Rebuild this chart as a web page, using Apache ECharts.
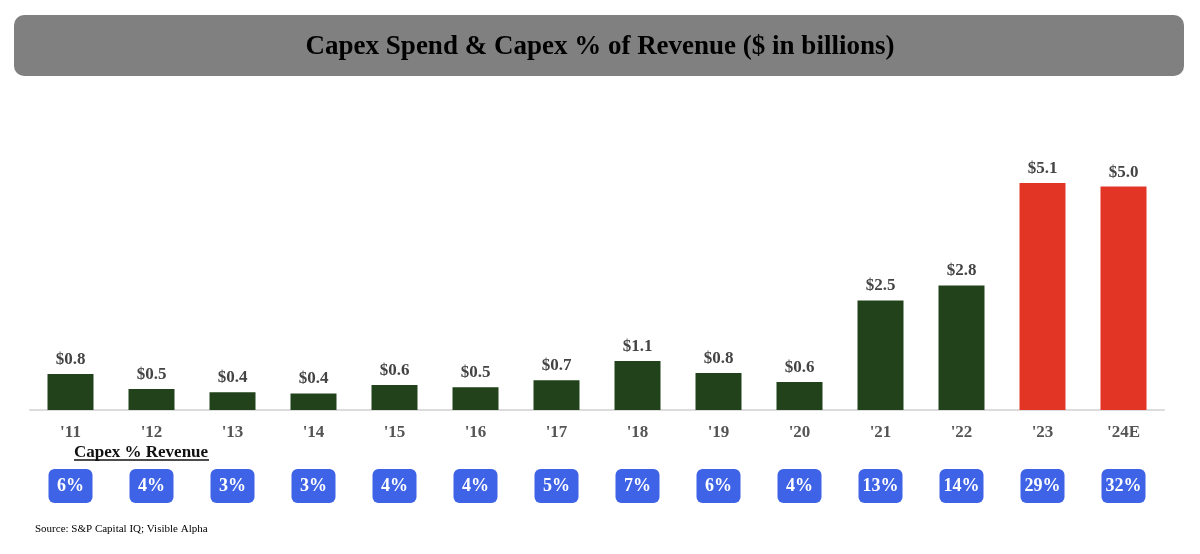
<!DOCTYPE html>
<html>
<head>
<meta charset="utf-8">
<script src="https://cdn.jsdelivr.net/npm/echarts@6/dist/echarts.min.js"></script>
<style>
  html, body { margin: 0; padding: 0; background: #fff; }
  #chart { width: 1200px; height: 554px; }
</style>
</head>
<body>
<div id="chart"></div>
<script>
// years along the axis
const years = ["'11", "'12", "'13", "'14", "'15", "'16", "'17", "'18", "'19", "'20", "'21", "'22", "'23", "'24E"]
// capex, $ billions
const capex = [0.81, 0.47, 0.4, 0.37, 0.56, 0.51, 0.67, 1.1, 0.83, 0.63, 2.46, 2.8, 5.1, 5.02]
// capex as % of revenue
const capexPct = ['6%', '4%', '3%', '3%', '4%', '4%', '5%', '7%', '6%', '4%', '13%', '14%', '29%', '32%']
// last two years are highlighted
const highlight = ["'23", "'24E"]

const serif = '"Liberation Serif", "Times New Roman", serif'
const green = '#21421a'
const red = '#e33526'
const blue = '#3e63e6'

const chart = echarts.init(document.getElementById('chart'))

let barData = capex.map((v, i) => {
  return {
    value: v,
    itemStyle: { color: highlight.includes(years[i]) ? red : green }
  }
})

chart.setOption({
  animation: false,
  grid: {
    left: 30,
    right: 36,
    top: 143,
    bottom: 144
  },
  xAxis: [
    {
      type: 'category',
      data: years,
      axisLine: { lineStyle: { color: '#dcdcdc', width: 2 } },
      axisTick: { show: false },
      axisLabel: {
        margin: 14,
        fontFamily: serif,
        fontWeight: 'bold',
        fontSize: 17,
        color: '#555'
      }
    },
    {
      type: 'category',
      data: capexPct,
      position: 'bottom',
      axisLine: { show: false },
      axisTick: { show: false },
      axisLabel: {
        margin: 59,
        fontFamily: serif,
        fontWeight: 'bold',
        fontSize: 18,
        color: '#fff',
        backgroundColor: blue,
        borderRadius: 6,
        width: 44,
        height: 34,
        lineHeight: 34,
        align: 'center',
        verticalAlign: 'top'
      }
    }
  ],
  yAxis: {
    type: 'value',
    min: 0,
    max: 6,
    show: false,
    splitLine: { show: false }
  },
  graphic: [
    {
      type: 'rect',
      left: 14,
      top: 15,
      shape: { width: 1170, height: 61, r: 10 },
      style: { fill: '#808080' }
    },
    {
      type: 'text',
      left: 'center',
      top: 34,
      style: {
        text: 'Capex Spend & Capex % of Revenue ($ in billions)',
        font: 'bold 27px ' + serif,
        fill: '#000'
      }
    },
    {
      type: 'text',
      left: 74,
      top: 444,
      style: {
        text: 'Capex % Revenue',
        font: 'bold 17px ' + serif,
        fill: '#111'
      }
    },
    {
      type: 'line',
      shape: { x1: 74, y1: 460, x2: 209, y2: 460 },
      style: { stroke: '#111', lineWidth: 1.3 }
    },
    {
      type: 'text',
      left: 35,
      top: 524,
      style: {
        text: 'Source: S&P Capital IQ; Visible Alpha',
        font: '11px ' + serif,
        fill: '#000'
      }
    }
  ],
  series: [
    {
      type: 'bar',
      data: barData,
      barWidth: 46,
      label: {
        show: true,
        position: 'top',
        distance: 6,
        fontFamily: serif,
        fontWeight: 'bold',
        fontSize: 17,
        color: '#444',
        formatter: p => '$' + p.value.toFixed(1)
      }
    }
  ]
})
</script>
</body>
</html>
